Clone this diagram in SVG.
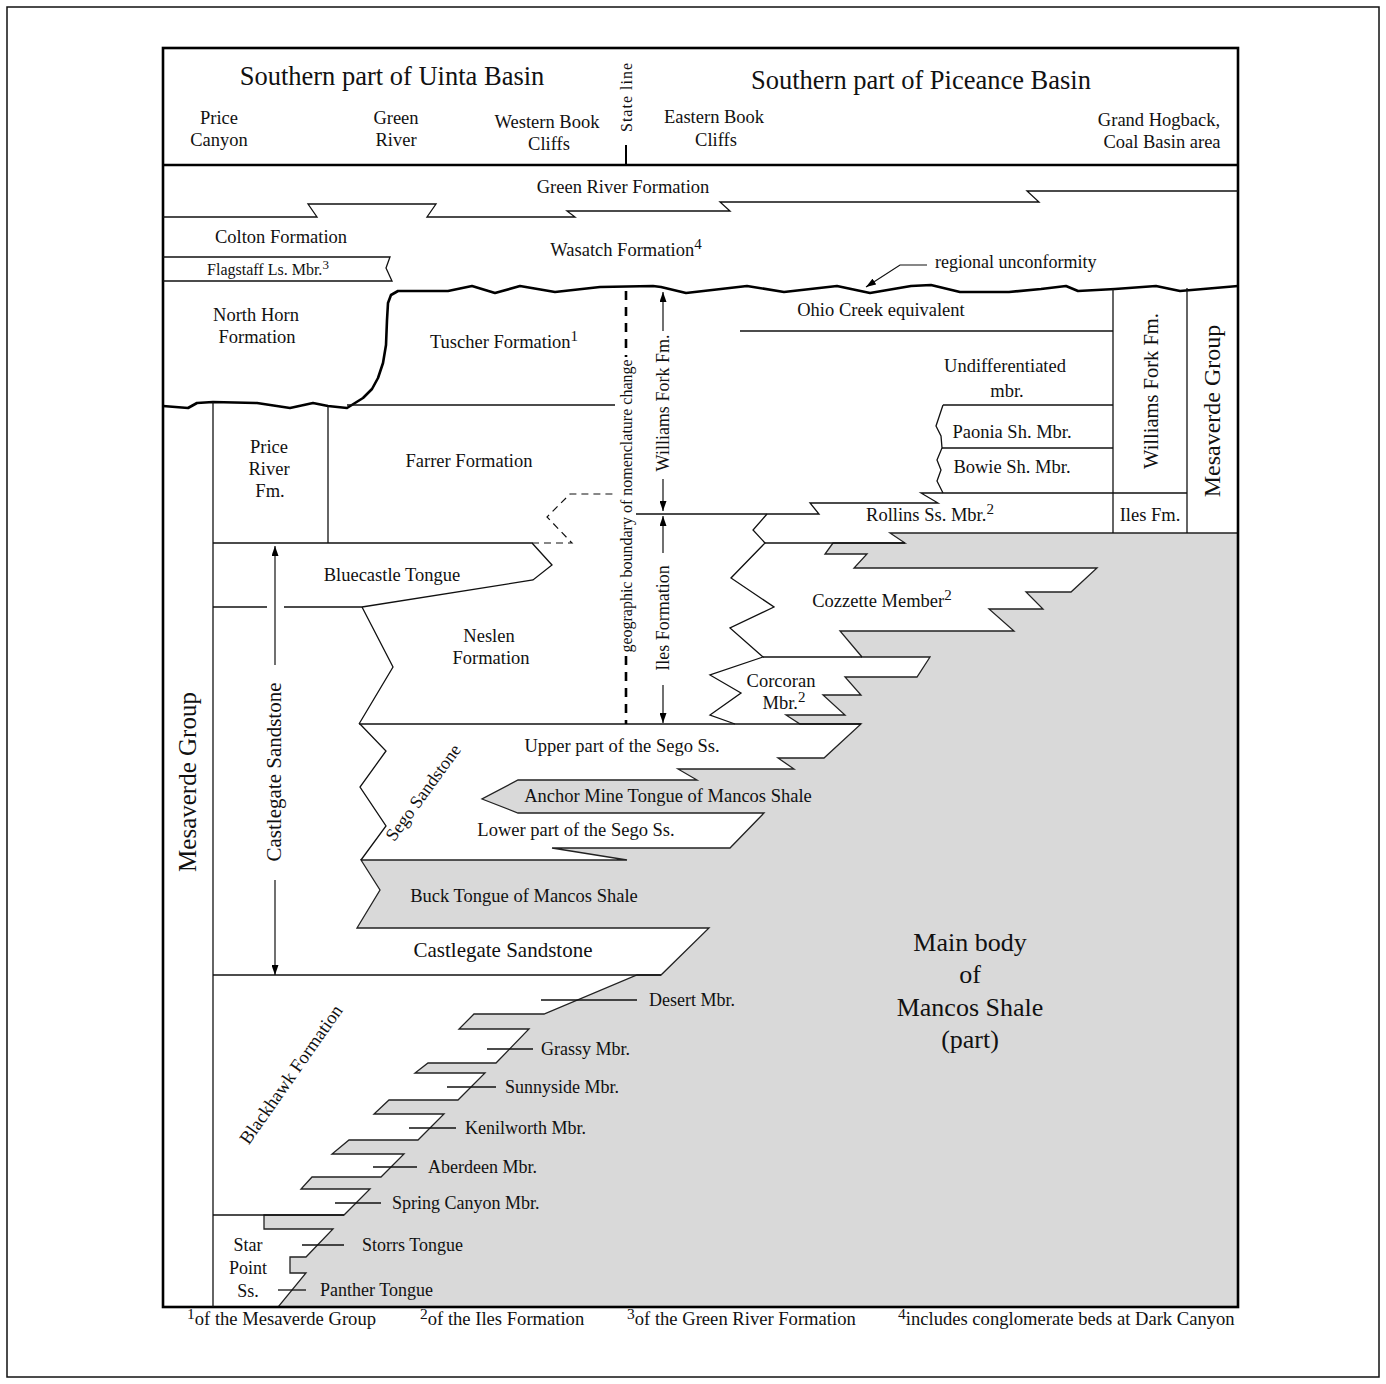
<svg xmlns="http://www.w3.org/2000/svg" width="1386" height="1384" viewBox="0 0 1386 1384">
<defs>
<marker id="ah" viewBox="0 0 10 7" refX="10" refY="3.5" markerWidth="10" markerHeight="7" markerUnits="userSpaceOnUse" orient="auto"><path d="M0,0 L10,3.5 L0,7 z" fill="#000"/></marker>
</defs>
<style>
text{font-family:"Liberation Serif","Times New Roman",serif;fill:#111;}
.c{text-anchor:middle}
.hh{font-size:26.5px}
.h{font-size:24px}
.s{font-size:18.5px}
.m{font-size:18px}
.sm{font-size:16px}
.big{font-size:21px}
.main{font-size:26px}
.fn{font-size:18.6px}
.ln{fill:none;stroke:#111;stroke-width:1.3;stroke-linejoin:miter}
.thick{fill:none;stroke:#000;stroke-width:2.6;stroke-linejoin:round}
.dash{fill:none;stroke:#111;stroke-width:1.2;stroke-dasharray:7 5}
.gdash{fill:none;stroke:#000;stroke-width:2.6;stroke-dasharray:9 7}
.arr{fill:none;stroke:#111;stroke-width:1.2;marker-end:url(#ah)}
.shale{fill:#d9d9d9;stroke:#222;stroke-width:1.3;stroke-linejoin:miter}
</style>
<rect width="1386" height="1384" fill="#fff"/>
<rect id="outer-border" x="7" y="7" width="1372" height="1370" fill="none" stroke="#111" stroke-width="1.5"/>

<g id="mancos-shale">
<polygon class="shale" points="1238,533 1238,1307 278,1307 306,1273 290,1273 290,1257 306,1257 333,1229 264,1229 264,1215 344,1215 370,1189 301,1189 312,1177 381,1177 404,1154 332,1154 349,1140 418,1140 444,1114 374,1114 389,1100 458,1100 485,1073 415,1073 428,1063 496,1063 529,1029 459,1029 474,1014 544,1014 637,975 661,975 709,928 357,928 380,890 361,860 627,860 552,848 730,848 764,813 518,813 482,799 518,780 697,780 678,769 794,769 778,758 824,758 861,724 800,724 786,715 845,715 823,695 861,695 845,677 917,677 930,657 862,657 840,631 1014,631 989,609 1043,609 1026,592 1071,592 1097,568 854,568 867,554 825,554 833,543 905,543 890,533"/>
</g>

<g id="frame">
<rect x="163" y="48" width="1075" height="1259" fill="none" stroke="#000" stroke-width="2.6"/>
<line x1="163" y1="165" x2="1238" y2="165" stroke="#000" stroke-width="2.6"/>
<line x1="626" y1="145" x2="626" y2="165" stroke="#000" stroke-width="2"/>
</g>

<g id="connectors">
<polyline class="ln" points="163,217 317,217 308,204 436,204 427,217 575,217 567,211 730,211 720,202 1039,202 1027,191 1238,191"/>
<polyline class="ln" points="163,257 390,257 386,268 392,281 163,281"/>
<polyline class="thick" points="163,406 188,408 197,403 213,402 257,403 290,408 313,403 328,406 347,408 363,398 372,389 378,378 383,363 386,345 387,320 388,303 391,295 398,291 448,291 472,286 495,293 520,286 555,292 600,287 653,286 661,287 686,293 747,286 784,292 837,286 870,293 911,286 931,285 960,292 1009,292 1041,289 1066,286 1078,291 1115,289 1156,286 1180,291 1238,286"/>
<line class="ln" x1="347" y1="405" x2="615" y2="405"/>
<line class="ln" x1="213" y1="402" x2="213" y2="1307"/>
<line class="ln" x1="328" y1="406" x2="328" y2="543"/>
<polyline class="ln" points="213,543 532,543 552,565 533,580 362,607 284,607"/>
<line class="ln" x1="213" y1="607" x2="267" y2="607"/>
<polyline class="dash" points="532,543 572,543 547,517 570,494 613,494"/>
<polyline class="ln" points="362,607 393,667 359,724"/>
<line class="ln" x1="359" y1="724" x2="861" y2="724"/>
<polyline class="ln" points="360,724 386,751 360,787 386,826 361,860"/>
<line class="ln" x1="213" y1="975" x2="661" y2="975"/>
<line class="ln" x1="213" y1="1215" x2="344" y2="1215"/>
<polyline class="ln" points="636,514 819,514 810,503 938,503 921,493 1187,493"/>
<polyline class="ln" points="767,514 753,530 765,543 731,578 774,607 730,628 763,657 710,675 741,693 710,715 735,724"/>
<line class="ln" x1="765" y1="543" x2="905" y2="543"/>
<line class="ln" x1="763" y1="657" x2="862" y2="657"/>
<line class="ln" x1="740" y1="331" x2="1113" y2="331"/>
<line class="ln" x1="943" y1="405" x2="1113" y2="405"/>
<line class="ln" x1="942" y1="448" x2="1113" y2="448"/>
<polyline class="ln" points="943,405 939,417 936,426 941,436 942,448 937,460 941,470 937,481 943,493"/>
<line class="ln" x1="1113" y1="289" x2="1113" y2="533"/>
<line class="ln" x1="1187" y1="288" x2="1187" y2="533"/>
<line class="gdash" x1="626" y1="291" x2="626" y2="357"/>
<line class="gdash" x1="626" y1="656" x2="626" y2="724"/>
<line class="arr" x1="663" y1="331" x2="663" y2="292"/>
<line class="arr" x1="663" y1="479" x2="663" y2="511"/>
<line class="arr" x1="663" y1="553" x2="663" y2="516"/>
<line class="arr" x1="663" y1="685" x2="663" y2="723"/>
<line class="arr" x1="275" y1="665" x2="275" y2="546"/>
<line class="arr" x1="275" y1="880" x2="275" y2="975"/>
<polyline class="arr" points="927,265 900,265 866,287"/>
<line class="ln" x1="541" y1="1000" x2="637" y2="1000"/>
<line class="ln" x1="487" y1="1049" x2="533" y2="1049"/>
<line class="ln" x1="447" y1="1087" x2="496" y2="1087"/>
<line class="ln" x1="409" y1="1128" x2="456" y2="1128"/>
<line class="ln" x1="373" y1="1167" x2="417" y2="1167"/>
<line class="ln" x1="335" y1="1203" x2="381" y2="1203"/>
<line class="ln" x1="302" y1="1245" x2="344" y2="1245"/>
<line class="ln" x1="278" y1="1290" x2="306" y2="1290"/>
</g>

<g id="header">
<text class="hh c" x="392" y="85">Southern part of Uinta Basin</text>
<text class="hh c" x="921" y="89">Southern part of Piceance Basin</text>
<text class="sm" x="0" y="0" text-anchor="middle" letter-spacing="1" transform="translate(632,97) rotate(-90)">State line</text>
<text class="s c" x="219" y="124">Price</text>
<text class="s c" x="219" y="146">Canyon</text>
<text class="s c" x="396" y="124">Green</text>
<text class="s c" x="396" y="146">River</text>
<text class="s c" x="547" y="128">Western Book</text>
<text class="s c" x="549" y="150">Cliffs</text>
<text class="s c" x="714" y="123">Eastern Book</text>
<text class="s c" x="716" y="146">Cliffs</text>
<text class="s c" x="1159" y="126">Grand Hogback,</text>
<text class="s c" x="1162" y="148">Coal Basin area</text>
</g>

<g id="labels">
<text class="s c" x="623" y="193">Green River Formation</text>
<text class="s c" x="281" y="243">Colton Formation</text>
<text class="s c" x="626" y="256">Wasatch Formation<tspan font-size="15" dy="-7">4</tspan></text>
<text class="sm c" x="268" y="275">Flagstaff Ls. Mbr.<tspan font-size="13" dy="-6">3</tspan></text>
<text class="m" x="935" y="268">regional unconformity</text>
<text class="s c" x="256" y="321">North Horn</text>
<text class="s c" x="257" y="343">Formation</text>
<text class="s c" x="504" y="348">Tuscher Formation<tspan font-size="15" dy="-7">1</tspan></text>
<text class="s c" x="881" y="316">Ohio Creek equivalent</text>
<text class="s c" x="1005" y="372">Undifferentiated</text>
<text class="s c" x="1007" y="397">mbr.</text>
<text class="s c" x="1012" y="438">Paonia Sh. Mbr.</text>
<text class="s c" x="1012" y="473">Bowie Sh. Mbr.</text>
<text class="c" font-size="20.5" x="0" y="0" transform="translate(1158,391) rotate(-90)">Williams Fork Fm.</text>
<text class="h c" x="0" y="0" transform="translate(1220,411) rotate(-90)">Mesaverde Group</text>
<text class="s c" x="1150" y="521">Iles Fm.</text>
<text class="sm c" x="0" y="0" transform="translate(632,506) rotate(-90)">geographic boundary of nomenclature change</text>
<text class="m c" x="0" y="0" transform="translate(669,403) rotate(-90)">Williams Fork Fm.</text>
<text class="m c" x="0" y="0" transform="translate(669,618) rotate(-90)">Iles Formation</text>
<text class="s c" x="269" y="453">Price</text>
<text class="s c" x="269" y="475">River</text>
<text class="s c" x="270" y="497">Fm.</text>
<text class="s c" x="469" y="467">Farrer Formation</text>
<text class="s c" x="930" y="521">Rollins Ss. Mbr.<tspan font-size="15" dy="-7">2</tspan></text>
<text class="s c" x="392" y="581">Bluecastle Tongue</text>
<text class="s c" x="882" y="607">Cozzette Member<tspan font-size="15" dy="-7">2</tspan></text>
<text class="s c" x="489" y="642">Neslen</text>
<text class="s c" x="491" y="664">Formation</text>
<text class="s c" x="781" y="687">Corcoran</text>
<text class="s c" x="784" y="709">Mbr.<tspan font-size="15" dy="-7">2</tspan></text>
<text class="s c" x="622" y="752">Upper part of the Sego Ss.</text>
<text class="s c" x="668" y="802">Anchor Mine Tongue of Mancos Shale</text>
<text class="s c" x="576" y="836">Lower part of the Sego Ss.</text>
<text class="m c" x="0" y="0" transform="translate(428,796) rotate(-54)">Sego Sandstone</text>
<text class="s c" x="524" y="902">Buck Tongue of Mancos Shale</text>
<text class="big c" x="503" y="957">Castlegate Sandstone</text>
<text class="big c" x="0" y="0" transform="translate(281,772) rotate(-90)">Castlegate Sandstone</text>
<text class="c" font-size="25" x="0" y="0" transform="translate(196,782) rotate(-90)">Mesaverde Group</text>
<text class="main c" x="970" y="951">Main body</text>
<text class="main c" x="970" y="983">of</text>
<text class="main c" x="970" y="1016">Mancos Shale</text>
<text class="main c" x="970" y="1048">(part)</text>
<text class="s c" x="0" y="0" transform="translate(296,1078) rotate(-55)">Blackhawk Formation</text>
<text class="m" x="649" y="1006">Desert Mbr.</text>
<text class="m" x="541" y="1055">Grassy Mbr.</text>
<text class="m" x="505" y="1093">Sunnyside Mbr.</text>
<text class="m" x="465" y="1134">Kenilworth Mbr.</text>
<text class="m" x="428" y="1173">Aberdeen Mbr.</text>
<text class="m" x="392" y="1209">Spring Canyon Mbr.</text>
<text class="m" x="362" y="1251">Storrs Tongue</text>
<text class="m" x="320" y="1296">Panther Tongue</text>
<text class="m c" x="248" y="1251">Star</text>
<text class="m c" x="248" y="1274">Point</text>
<text class="m c" x="248" y="1297">Ss.</text>
</g>

<g id="footnotes">
<text class="fn" x="187" y="1325"><tspan font-size="15.5" dy="-6">1</tspan><tspan dy="6">of the Mesaverde Group</tspan></text>
<text class="fn" x="420" y="1325"><tspan font-size="15.5" dy="-6">2</tspan><tspan dy="6">of the Iles Formation</tspan></text>
<text class="fn" x="627" y="1325"><tspan font-size="15.5" dy="-6">3</tspan><tspan dy="6">of the Green River Formation</tspan></text>
<text class="fn" x="898" y="1325"><tspan font-size="15.5" dy="-6">4</tspan><tspan dy="6">includes conglomerate beds at Dark Canyon</tspan></text>
</g>
</svg>
